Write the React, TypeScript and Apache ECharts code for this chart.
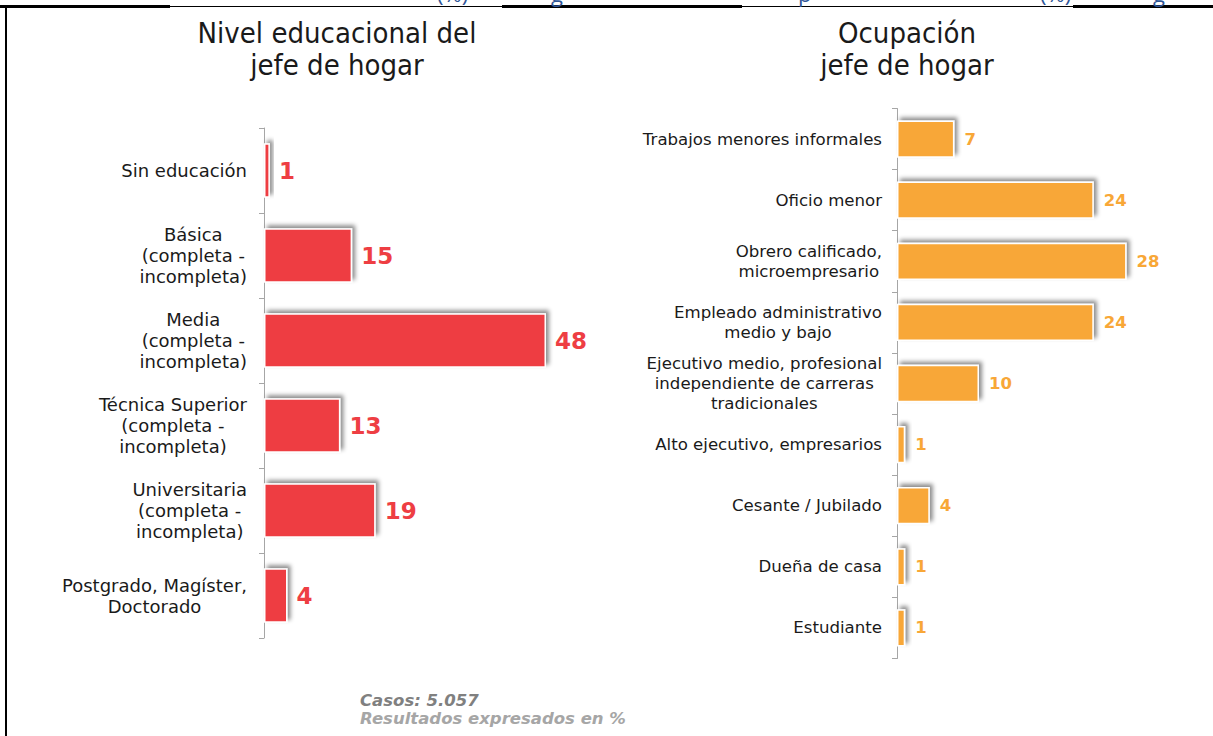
import React, { useEffect, useRef } from "react";
import * as echarts from "echarts";

const eduCategories = [
  "Sin educación",
  "Básica\n(completa -\nincompleta)",
  "Media\n(completa -\nincompleta)",
  "Técnica Superior\n(completa -\nincompleta)",
  "Universitaria\n(completa -\nincompleta)",
  "Postgrado, Magíster,\nDoctorado",
];
const eduValues = [1, 15, 48, 13, 19, 4];

const occCategories = [
  "Trabajos menores informales",
  "Oficio menor",
  "Obrero calificado,\nmicroempresario",
  "Empleado administrativo\nmedio y bajo",
  "Ejecutivo medio, profesional\nindependiente de carreras\ntradicionales",
  "Alto ejecutivo, empresarios",
  "Cesante / Jubilado",
  "Dueña de casa",
  "Estudiante",
];
const occValues = [7, 24, 28, 24, 10, 1, 4, 1, 1];

const eduTitle = "Nivel educacional del\njefe de hogar";
const occTitle = "Ocupación\njefe de hogar";
const noteCases = "Casos: 5.057";
const noteUnits = "Resultados expresados en %";

const RED = "#EE3E43";
const ORANGE = "#F8A737";
const LABEL_FONT = "'DejaVu Sans', Verdana, sans-serif";
const TITLE_FONT = "'DejaVu Sans Condensed', 'Liberation Sans Narrow', 'DejaVu Sans', sans-serif";

const barItemStyle = (color: string) => ({
  color,
  borderColor: "#ffffff",
  borderWidth: 1.5,
  shadowColor: "rgba(0,0,0,0.45)",
  shadowBlur: 4,
  shadowOffsetX: 3,
  shadowOffsetY: -3,
});

const centeredLines = (value: string) =>
  value
    .split("\n")
    .map((l) => `{c|${l}}`)
    .join("\n");

const categoryLabel = (fontSize: number, lineHeight: number, margin: number) => ({
  margin,
  color: "#1a1a1a",
  fontSize,
  fontFamily: LABEL_FONT,
  lineHeight,
  align: "right",
  formatter: centeredLines,
  rich: {
    c: {
      align: "center",
      color: "#1a1a1a",
      fontSize,
      fontFamily: LABEL_FONT,
      lineHeight,
    },
  },
});

export default function App() {
  const ref = useRef<HTMLDivElement>(null);
  useEffect(() => {
    if (!ref.current) return;
    const chart = echarts.init(ref.current, null, { renderer: "svg" });
    const axisColor = "#A6A6A6";
    const fragment = (x: number, text: string) => ({
      type: "text",
      x,
      y: 4,
      style: {
        text,
        fill: "#2F5597",
        fontSize: 22,
        fontFamily: "'Open Sans', sans-serif",
        verticalAlign: "bottom",
      },
    });
    chart.setOption({
      animation: false,
      backgroundColor: "#ffffff",
      grid: [
        { left: 264, top: 128, height: 510, width: 352.5 },
        { left: 897, top: 108.5, height: 550, width: 287 },
      ],
      xAxis: [
        { type: "value", gridIndex: 0, min: 0, max: 60, show: false },
        { type: "value", gridIndex: 1, min: 0, max: 35, show: false },
      ],
      yAxis: [
        {
          type: "category",
          gridIndex: 0,
          data: eduCategories,
          inverse: true,
          axisLine: { show: true, lineStyle: { color: axisColor, width: 1 } },
          axisTick: { show: true, length: 5, lineStyle: { color: axisColor } },
          axisLabel: categoryLabel(18, 21, 17),
          splitLine: { show: false },
        },
        {
          type: "category",
          gridIndex: 1,
          data: occCategories,
          inverse: true,
          axisLine: { show: true, lineStyle: { color: axisColor, width: 1 } },
          axisTick: { show: true, length: 5, lineStyle: { color: axisColor } },
          axisLabel: categoryLabel(16.6, 20, 15),
          splitLine: { show: false },
        },
      ],
      series: [
        {
          type: "bar",
          xAxisIndex: 0,
          yAxisIndex: 0,
          data: eduValues,
          barCategoryGap: "36%",
          itemStyle: barItemStyle(RED),
          label: {
            show: true,
            position: "right",
            distance: 9,
            color: RED,
            fontSize: 23,
            fontWeight: "bold",
            fontFamily: LABEL_FONT,
          },
        },
        {
          type: "bar",
          xAxisIndex: 1,
          yAxisIndex: 1,
          data: occValues,
          barCategoryGap: "39%",
          itemStyle: barItemStyle(ORANGE),
          label: {
            show: true,
            position: "right",
            distance: 10,
            color: ORANGE,
            fontSize: 16.5,
            fontWeight: "bold",
            fontFamily: LABEL_FONT,
          },
        },
      ],
      graphic: [
        // frame
        { type: "rect", shape: { x: 0, y: 6, width: 1213, height: 1 }, style: { fill: "#000" } },
        { type: "rect", shape: { x: 0, y: 5, width: 170, height: 3 }, style: { fill: "#000" } },
        { type: "rect", shape: { x: 502, y: 5, width: 240, height: 3 }, style: { fill: "#000" } },
        { type: "rect", shape: { x: 1073, y: 5, width: 140, height: 3 }, style: { fill: "#000" } },
        { type: "rect", shape: { x: 5, y: 6, width: 2, height: 730 }, style: { fill: "#000" } },
        // cut-off heading fragments visible at the very top of the reference
        fragment(437, "(%)"),
        fragment(551, "g"),
        fragment(798, "p"),
        fragment(1040, "(%)"),
        fragment(1153, "g"),
        // titles
        {
          type: "text",
          x: 337,
          y: 17,
          style: {
            text: eduTitle,
            fill: "#1a1a1a",
            fontSize: 29,
            fontFamily: TITLE_FONT,
            lineHeight: 32,
            align: "center",
            verticalAlign: "top",
          },
        },
        {
          type: "text",
          x: 907,
          y: 17,
          style: {
            text: occTitle,
            fill: "#1a1a1a",
            fontSize: 29,
            fontFamily: TITLE_FONT,
            lineHeight: 32,
            align: "center",
            verticalAlign: "top",
          },
        },
        // notes
        {
          type: "text",
          x: 360,
          y: 692,
          style: {
            text: noteCases,
            fill: "#808080",
            fontSize: 16.5,
            fontWeight: "bold",
            fontStyle: "italic",
            fontFamily: LABEL_FONT,
            verticalAlign: "top",
          },
        },
        {
          type: "text",
          x: 360,
          y: 710,
          style: {
            text: noteUnits,
            fill: "#A6A6A6",
            fontSize: 16.5,
            fontWeight: "bold",
            fontStyle: "italic",
            fontFamily: LABEL_FONT,
            verticalAlign: "top",
          },
        },
      ],
    });
    return () => chart.dispose();
  }, []);
  return (
    <div
      ref={ref}
      style={{ position: "absolute", left: 0, top: 0, width: 1213, height: 736 }}
    />
  );
}
